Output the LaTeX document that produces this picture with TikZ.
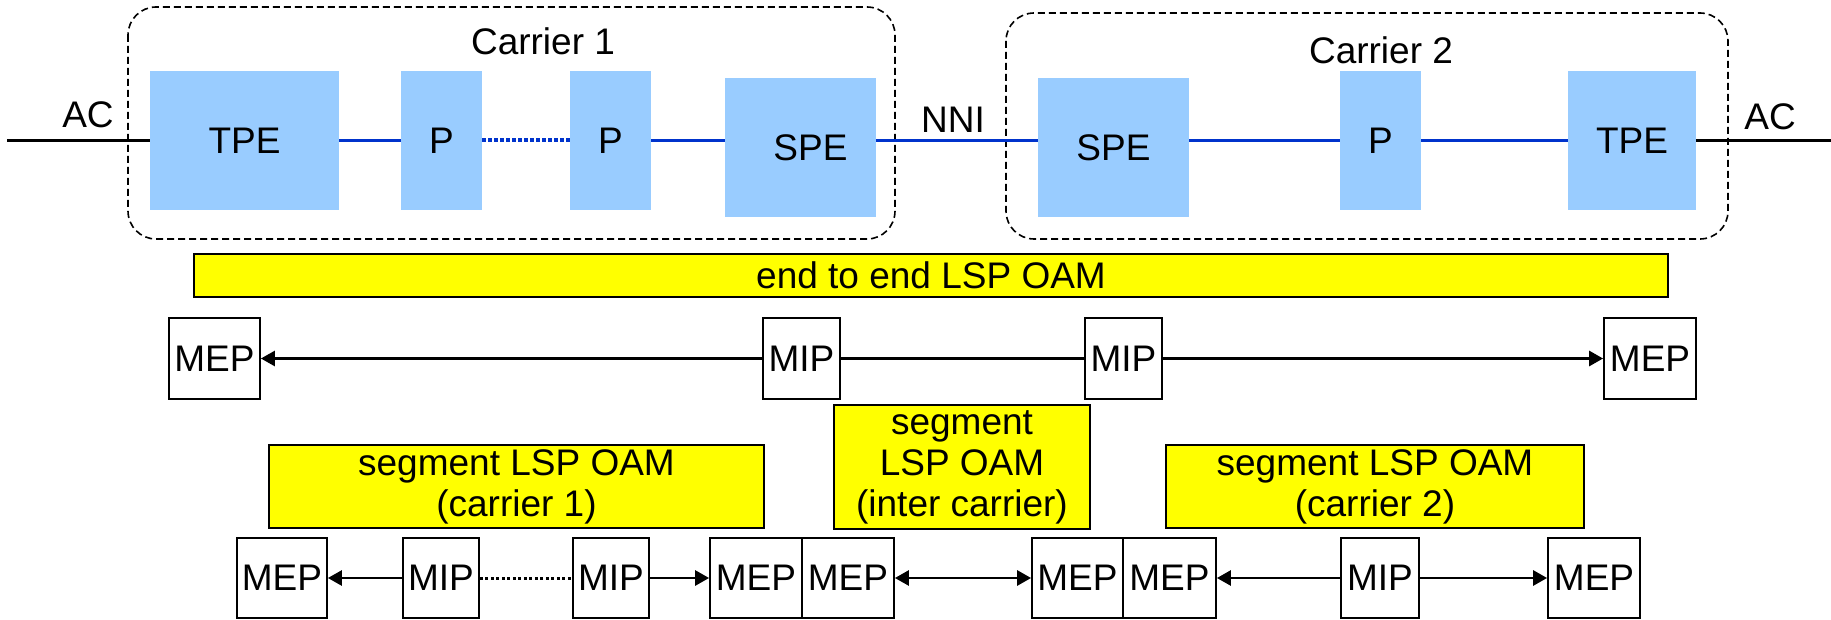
\documentclass[tikz,border=0pt]{standalone}
\usepackage{fontspec}
\setmainfont{Liberation Sans}
\usetikzlibrary{arrows.meta}
\definecolor{nodeblue}{HTML}{99CCFF}
\definecolor{linkblue}{HTML}{0033CC}
\definecolor{oamyellow}{HTML}{FFFF00}
\tikzset{
  txt/.style={font=\fontsize{37}{41}\selectfont, inner sep=0pt},
  pebox/.style={fill=nodeblue, draw=none, inner sep=0pt, font=\fontsize{37}{41}\selectfont},
  carrierbox/.style={draw=black, line width=1.6pt, dash pattern=on 7pt off 4pt, rounded corners=28pt},
  link/.style={draw=linkblue, line width=3.5pt},
  linkdot/.style={draw=linkblue, line width=4pt, dash pattern=on 3.5pt off 2.5pt},
  oambar/.style={fill=oamyellow, draw=black, line width=2pt, inner sep=0pt, align=center, font=\fontsize{37}{41}\selectfont},
  mbox/.style={fill=white, draw=black, line width=1.8pt, inner sep=0pt, minimum height=80pt, font=\fontsize{37}{41}\selectfont},
  conn/.style={draw=black, line width=2.8pt},
  tip/.style={-{Triangle[length=14pt,width=15pt]}},
  dtip/.style={{Triangle[length=14pt,width=15pt]}-{Triangle[length=14pt,width=15pt]}},
  blackdot/.style={draw=black, line width=3pt, dash pattern=on 3pt off 2.5pt},
}
\begin{document}
\begin{tikzpicture}[x=1pt,y=-1pt]
\useasboundingbox (0,0) rectangle (1831,620);
% carrier boxes
\draw[carrierbox] (128,7) rectangle (895,239);
\draw[carrierbox] (1006,13) rectangle (1728,239);
\node[txt] (c1) at (543,41) {Carrier 1};
\node[txt] (c2) at (1381,50) {Carrier 2};
% PE nodes
\node[pebox, minimum width=189pt, minimum height=139pt] (tpe1) at (244.5,140.5) {TPE};
\node[pebox, minimum width=81pt, minimum height=139pt] (p1) at (441.5,140.5) {P};
\node[pebox, minimum width=81pt, minimum height=139pt] (p2) at (610.5,140.5) {P};
\node[pebox, minimum width=151pt, minimum height=139pt] (spe1) at (800.5,147.5) {\hspace*{20pt}SPE};
\node[pebox, minimum width=151pt, minimum height=139pt] (spe2) at (1113.5,147.5) {SPE};
\node[pebox, minimum width=81pt, minimum height=139pt] (p3) at (1380.5,140.5) {P};
\node[pebox, minimum width=128pt, minimum height=139pt] (tpe2) at (1632,140.5) {TPE};
% links
\draw[link] (tpe1.east) -- (p1.west);
\draw[linkdot] (p1.east) -- (p2.west);
\draw[link] (p2.east) -- (p2.east -| spe1.west);
\draw[link] (p2.east -| spe1.east) -- (p2.east -| spe2.west);
\draw[link] (p3.west -| spe2.east) -- (p3.west);
\draw[link] (p3.east) -- (tpe2.west);
% AC lines
\coordinate (acl) at (7,140.5);
\coordinate (acr) at (1831,140.5);
\draw[black, line width=2.4pt] (acl) -- (tpe1.west);
\draw[black, line width=2.4pt] (tpe2.east) -- (acr);
\node[txt] (acltxt) at (88,115) {AC};
\node[txt] (acrtxt) at (1770,117) {AC};
\node[txt] (nni) at (953,120) {NNI};
% end to end bar
\node[oambar, minimum width=1474pt, minimum height=43pt] (e2e) at (931,275.5) {end to end LSP OAM};
% top row MEP/MIP
\node[mbox, minimum width=91pt, minimum height=81pt] (mepL) at (214.5,358.5) {MEP};
\node[mbox, minimum width=77pt, minimum height=81pt] (mipL) at (801.5,358.5) {MIP};
\node[mbox, minimum width=77pt, minimum height=81pt] (mipR) at (1123.5,358.5) {MIP};
\node[mbox, minimum width=92pt, minimum height=81pt] (mepR) at (1650,358.5) {MEP};
\draw[conn, tip] (mipL.west) -- (mepL.east);
\draw[conn] (mipL.east) -- (mipR.west);
\draw[conn, tip] (mipR.east) -- (mepR.west);
% segment bars
\node[oambar, minimum width=495pt, minimum height=83pt] (seg1) at (516.5,486.5) {segment LSP OAM\\(carrier 1)};
\node[oambar, minimum width=256pt, minimum height=124pt] (segi) at (962,467) {segment\\LSP OAM\\(inter carrier)};
\node[oambar, minimum width=418pt, minimum height=83pt] (seg2) at (1375,486.5) {segment LSP OAM\\(carrier 2)};
% bottom row
\node[mbox, minimum width=90pt] (mepA) at (282,578) {MEP};
\node[mbox, minimum width=76pt] (mipA) at (441,578) {MIP};
\node[mbox, minimum width=76pt] (mipB) at (611,578) {MIP};
\node[mbox, minimum width=92pt] (mepB) at (756,578) {MEP};
\node[mbox, minimum width=92pt] (mepC) at (848,578) {MEP};
\node[mbox, minimum width=91pt] (mepD) at (1077.5,578) {MEP};
\node[mbox, minimum width=93pt] (mepE) at (1169.5,578) {MEP};
\node[mbox, minimum width=78pt] (mipC) at (1380,578) {MIP};
\node[mbox, minimum width=92pt] (mepF) at (1594,578) {MEP};
\draw[conn, tip] (mipA.west) -- (mepA.east);
\draw[blackdot] (mipA.east) -- (mipB.west);
\draw[conn, tip] (mipB.east) -- (mepB.west);
\draw[conn, dtip] (mepC.east) -- (mepD.west);
\draw[conn, tip] (mipC.west) -- (mepE.east);
\draw[conn, tip] (mipC.east) -- (mepF.west);
\end{tikzpicture}
\end{document}
